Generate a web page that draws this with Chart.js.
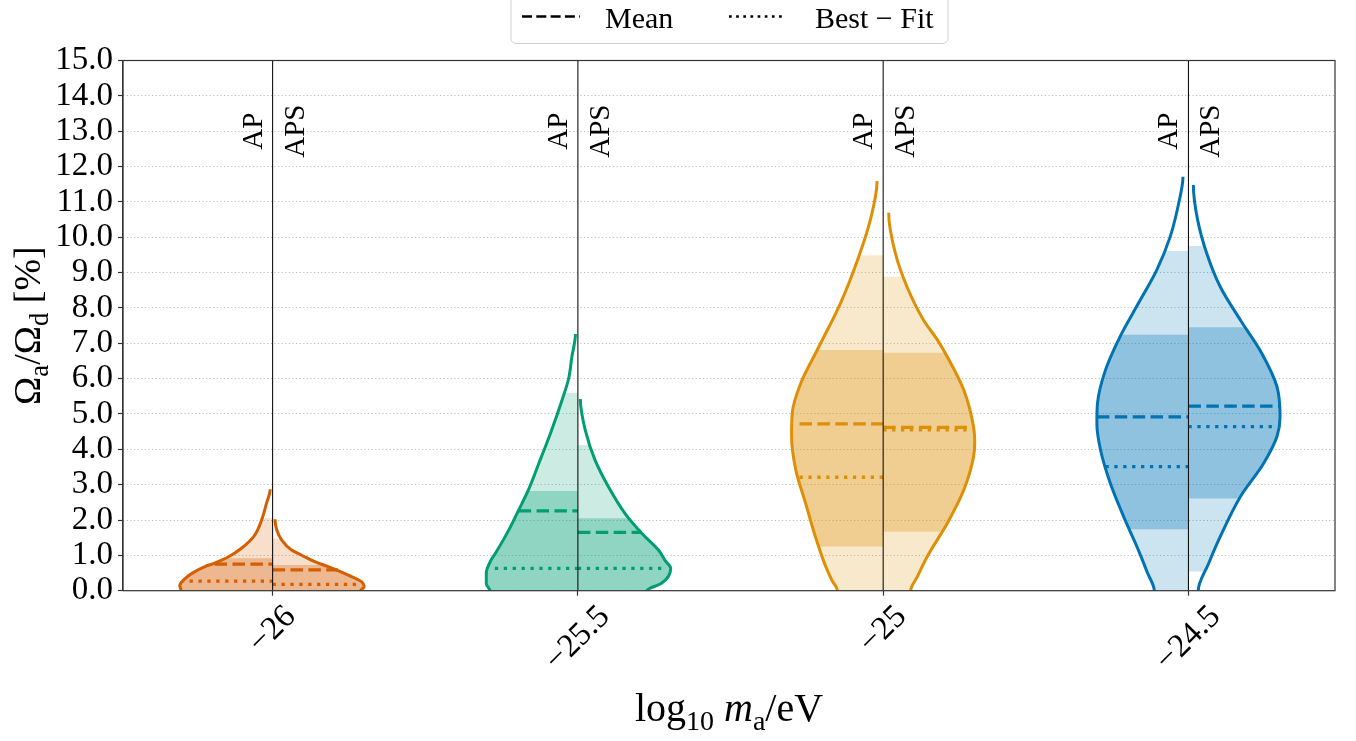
<!DOCTYPE html>
<html>
<head>
<meta charset="utf-8">
<script src="https://cdn.jsdelivr.net/npm/chart.js@4.4.1/dist/chart.umd.min.js"></script>
<style>
  html, body { margin: 0; padding: 0; background: #fff; }
  #wrap { width: 1356px; height: 741px; position: relative; }
</style>
</head>
<body>
<div id="wrap"><canvas id="chart"></canvas></div>
<script>
// categories (log10 m_a / eV) and tick labels
const masses = [-26, -25.5, -25, -24.5];
const massLabels = ['\u221226', '\u221225.5', '\u221225', '\u221224.5'];
const colors = ['#d55e00', '#029e73', '#de8f05', '#0173b2'];

// AP (left half) violin outline: y levels and half widths (x units)
const apY = [
  [0, 0.15, 0.3, 0.49, 0.68, 0.78, 0.96, 1.2, 1.53, 2.0, 2.47, 2.87],
  [0, 0.2, 0.5, 0.87, 1.06, 1.72, 2.28, 2.85, 3.6, 4.45, 5.39, 6.01, 6.6, 7.26],
  [0, 0.3, 0.68, 1.53, 2.47, 3.41, 4.36, 5.02, 5.87, 6.81, 8.13, 9.45, 10.49, 11.59],
  [0, 0.5, 1.15, 2.09, 3.04, 3.98, 4.74, 5.30, 6.24, 7.19, 8.13, 9.07, 10.01, 10.96, 11.71]
];
const apW = [
  [0.150, 0.152, 0.146, 0.132, 0.111, 0.095, 0.072, 0.051, 0.031, 0.018, 0.010, 0.004],
  [0.144, 0.150, 0.150, 0.142, 0.135, 0.113, 0.097, 0.081, 0.064, 0.045, 0.026, 0.015, 0.010, 0.004],
  [0.075, 0.084, 0.094, 0.111, 0.127, 0.143, 0.150, 0.149, 0.135, 0.108, 0.070, 0.040, 0.021, 0.010],
  [0.056, 0.067, 0.082, 0.106, 0.128, 0.144, 0.150, 0.149, 0.136, 0.112, 0.082, 0.052, 0.030, 0.016, 0.009]
];

// APS (right half)
const apsY = [
  [0, 0.11, 0.25, 0.44, 0.68, 0.82, 1.01, 1.15, 1.43, 1.71, 2.02],
  [0, 0.21, 0.4, 0.63, 0.85, 1.15, 1.62, 2.19, 2.94, 3.7, 4.55, 5.42],
  [0, 0.4, 0.96, 1.91, 2.85, 3.79, 4.2, 4.64, 5.68, 6.62, 7.09, 7.66, 8.6, 9.54, 10.69],
  [0, 0.77, 1.53, 2.66, 3.6, 4.36, 4.92, 5.77, 6.72, 7.66, 8.6, 9.54, 10.49, 11.48]
];
const apsW = [
  [0.144, 0.150, 0.146, 0.124, 0.091, 0.069, 0.047, 0.031, 0.015, 0.007, 0.004],
  [0.113, 0.137, 0.148, 0.152, 0.143, 0.132, 0.105, 0.077, 0.050, 0.028, 0.012, 0.004],
  [0.045, 0.056, 0.072, 0.105, 0.132, 0.148, 0.150, 0.148, 0.132, 0.105, 0.089, 0.066, 0.039, 0.020, 0.009],
  [0.016, 0.033, 0.052, 0.085, 0.123, 0.145, 0.150, 0.145, 0.120, 0.085, 0.052, 0.030, 0.015, 0.008]
];

// credible bands [low, high]
const apBand95 = [[0, 2.05], [0, 5.60], [0, 9.49], [0, 9.61]];
const apBand68 = [[0, 0.92], [0, 2.82], [1.25, 6.81], [1.74, 7.24]];
const apsBand95 = [[0, 1.48], [0, 4.12], [0, 8.88], [0.54, 9.75]];
const apsBand68 = [[0, 0.73], [0, 2.05], [1.67, 6.73], [2.61, 7.45]];

// mean and best-fit markers, with their reach (x units)
const apMean = [0.75, 2.26, 4.72, 4.92];
const apMeanW = [0.095, 0.097, 0.137, 0.150];
const apBest = [0.27, 0.63, 3.21, 3.51];
const apBestW = [0.136, 0.136, 0.137, 0.136];
const apsMean = [0.59, 1.65, 4.62, 5.22];
const apsMeanW = [0.107, 0.105, 0.137, 0.150];
const apsBest = [0.18, 0.63, 4.55, 4.64];
const apsBestW = [0.137, 0.137, 0.137, 0.138];

const SERIF = '"Liberation Serif", "DejaVu Serif", serif';

function rgba(hex, a) {
  const n = parseInt(hex.slice(1), 16);
  return `rgba(${n >> 16}, ${(n >> 8) & 255}, ${n & 255}, ${a})`;
}

function halfPoints(c, ys, ws, side) {
  const pts = [{x: c, y: ys[0]}];
  ys.forEach((y, i) => pts.push({x: c + side * ws[i], y: y}));
  pts.push({x: c, y: ys[ys.length - 1]});
  return pts;
}

const datasets = [];

masses.forEach((m, i) => {
  const col = colors[i];
  const halves = [
    {ys: apY[i], ws: apW[i], side: -1, b95: apBand95[i], b68: apBand68[i],
     mean: apMean[i], meanW: apMeanW[i], best: apBest[i], bestW: apBestW[i]},
    {ys: apsY[i], ws: apsW[i], side: 1, b95: apsBand95[i], b68: apsBand68[i],
     mean: apsMean[i], meanW: apsMeanW[i], best: apsBest[i], bestW: apsBestW[i]}
  ];

  halves.forEach(h => {
    const pts = halfPoints(m, h.ys, h.ws, h.side);
    const n = pts.length;
    const base = {
      type: 'line', indexAxis: 'y', cubicInterpolationMode: 'monotone',
      pointRadius: 0, fill: false
    };

    // outline (skip the two closing segments on the centre line)
    datasets.push(Object.assign({}, base, {
      data: pts, borderColor: col, borderWidth: 3, order: 1,
      segment: {
        borderColor: ctx => (ctx.p0DataIndex === 0 || ctx.p1DataIndex === n - 1) ? 'rgba(0,0,0,0)' : undefined
      }
    }));
    // shaded bands, clipped in the plugin
    datasets.push(Object.assign({}, base, {
      data: pts, borderColor: 'rgba(0,0,0,0)', borderWidth: 0, order: 4,
      band: h.b95, bandColor: rgba(col, 0.2)
    }));
    datasets.push(Object.assign({}, base, {
      data: pts, borderColor: 'rgba(0,0,0,0)', borderWidth: 0, order: 3,
      band: h.b68, bandColor: rgba(col, 0.3)
    }));

    const x0 = h.side < 0 ? m - h.meanW : m;
    const x1 = h.side < 0 ? m : m + h.meanW;
    datasets.push({
      type: 'line', data: [{x: x0, y: h.mean}, {x: x1, y: h.mean}],
      borderColor: col, borderWidth: 3.3, borderDash: [12.5, 5.4],
      pointRadius: 0, fill: false, order: 2
    });
    const b0 = h.side < 0 ? m - h.bestW : m;
    const b1 = h.side < 0 ? m : m + h.bestW;
    datasets.push({
      type: 'line', data: [{x: b0, y: h.best}, {x: b1, y: h.best}],
      borderColor: col, borderWidth: 3.3, borderDash: [3.3, 5.6],
      pointRadius: 0, fill: false, order: 2
    });
  });

  // separator between AP and APS
  datasets.push({
    type: 'line', data: [{x: m, y: 0}, {x: m, y: 15}],
    borderColor: '#111', borderWidth: 1.1, pointRadius: 0, fill: false, order: 0
  });
});

const bandPlugin = {
  id: 'bands',
  beforeDatasetDraw(chart, args) {
    const ds = chart.data.datasets[args.index];
    if (!ds.band) return;
    const ctx = chart.ctx;
    const a = chart.chartArea;
    const ys = chart.scales.y;
    const line = args.meta.dataset;
    line.updateControlPoints(a, args.meta.iScale.axis);
    const top = ys.getPixelForValue(ds.band[1]);
    const bot = ys.getPixelForValue(ds.band[0]);
    ctx.save();
    ctx.beginPath();
    ctx.rect(a.left, top, a.right - a.left, bot - top);
    ctx.clip();
    ctx.beginPath();
    line.path(ctx);
    ctx.closePath();
    ctx.fillStyle = ds.bandColor;
    ctx.fill();
    ctx.restore();
  }
};

function runFont(r, size) {
  return (r.it ? 'italic ' : '') + (r.sub ? size * 0.7 : size) + 'px ' + SERIF;
}
function runsWidth(ctx, runs, size) {
  let w = 0;
  runs.forEach(r => { ctx.font = runFont(r, size); w += ctx.measureText(r.t).width; });
  return w;
}
function drawRuns(ctx, runs, x, y, size) {
  runs.forEach(r => {
    ctx.font = runFont(r, size);
    ctx.fillText(r.t, x, y + (r.sub ? size * 0.22 : 0));
    x += ctx.measureText(r.t).width;
  });
}

const decorPlugin = {
  id: 'decor',
  afterDraw(chart) {
    const ctx = chart.ctx;
    const a = chart.chartArea;
    const xs = chart.scales.x;
    const ys = chart.scales.y;
    const cx = (a.left + a.right) / 2;

    ctx.save();
    // frame
    ctx.strokeStyle = '#333';
    ctx.lineWidth = 1.2;
    ctx.strokeRect(a.left, a.top, a.right - a.left, a.bottom - a.top);

    ctx.fillStyle = '#000';
    // AP / APS labels
    ctx.font = '29px ' + SERIF;
    ctx.textBaseline = 'alphabetic';
    ctx.textAlign = 'center';
    masses.forEach(m => {
      const px = xs.getPixelForValue(m);
      const py = ys.getPixelForValue(13.0);
      [['AP', px - 11], ['APS', px + 31]].forEach(([t, x]) => {
        ctx.save();
        ctx.translate(x, py);
        ctx.rotate(-Math.PI / 2);
        ctx.fillText(t, 0, 0);
        ctx.restore();
      });
    });

    // x tick labels, rotated 45 deg, centred under the tick
    ctx.font = '33px ' + SERIF;
    ctx.textBaseline = 'middle';
    masses.forEach((m, i) => {
      const px = xs.getPixelForValue(m);
      const w = ctx.measureText(massLabels[i]).width;
      const bh = (w + 33 * 0.68) * Math.SQRT1_2;
      ctx.save();
      ctx.translate(px, a.bottom + 13 + bh / 2);
      ctx.rotate(-Math.PI / 4);
      ctx.fillText(massLabels[i], 0, 0);
      ctx.restore();
    });

    // axis titles
    ctx.textAlign = 'left';
    ctx.textBaseline = 'alphabetic';
    const xt = [{t: 'log'}, {t: '10', sub: 1}, {t: ' '}, {t: 'm', it: 1}, {t: 'a', sub: 1}, {t: '/eV'}];
    const xw = runsWidth(ctx, xt, 40);
    drawRuns(ctx, xt, cx - xw / 2, 721, 40);

    const yt = [{t: '\u03a9'}, {t: 'a', sub: 1}, {t: '/\u03a9'}, {t: 'd', sub: 1}, {t: ' [%]'}];
    const yw = runsWidth(ctx, yt, 38);
    ctx.save();
    ctx.translate(40, (a.top + a.bottom) / 2);
    ctx.rotate(-Math.PI / 2);
    drawRuns(ctx, yt, -yw / 2, 0, 38);
    ctx.restore();

    // legend
    const lx = cx - 218;
    ctx.beginPath();
    ctx.roundRect(lx, -8, 437, 51.5, 5);
    ctx.fillStyle = 'rgba(255,255,255,0.85)';
    ctx.fill();
    ctx.strokeStyle = '#d0d0d0';
    ctx.lineWidth = 1;
    ctx.stroke();

    ctx.strokeStyle = '#000';
    ctx.lineWidth = 2.7;
    ctx.setLineDash([10, 4.3]);
    ctx.beginPath();
    ctx.moveTo(lx + 11, 16.5);
    ctx.lineTo(lx + 69, 16.5);
    ctx.stroke();
    ctx.setLineDash([2.7, 4.45]);
    ctx.beginPath();
    ctx.moveTo(lx + 218, 16.5);
    ctx.lineTo(lx + 271, 16.5);
    ctx.stroke();
    ctx.setLineDash([]);

    ctx.fillStyle = '#000';
    ctx.font = '30px ' + SERIF;
    ctx.fillText('Mean', lx + 94, 28);
    ctx.fillText('Best \u2212 Fit', lx + 304, 28);
    ctx.restore();
  }
};

new Chart(document.getElementById('chart'), {
  type: 'line',
  data: { datasets: datasets },
  options: {
    responsive: true,
    maintainAspectRatio: false,
    animation: false,
    events: [],
    layout: { padding: { top: 60.5, right: 21, bottom: 0, left: 0 } },
    plugins: { legend: { display: false }, tooltip: { enabled: false } },
    scales: {
      x: {
        type: 'linear', min: -26.245, max: -24.26,
        afterBuildTicks: s => { s.ticks = masses.map(v => ({value: v})); },
        ticks: { display: false },
        grid: { drawOnChartArea: false, drawTicks: true, tickLength: 5, tickColor: '#333', tickWidth: 1.2 },
        border: { display: false },
        afterFit: s => { s.height = 150.3; }
      },
      y: {
        type: 'linear', min: 0, max: 15,
        ticks: {
          stepSize: 1, autoSkip: false, padding: 5, color: '#000',
          font: { family: SERIF, size: 33, lineHeight: 1 },
          callback: v => v.toFixed(1)
        },
        grid: { color: '#b5b5b5', lineWidth: 0.9, tickColor: '#333', tickLength: 5, tickWidth: 1.2 },
        border: { display: true, color: '#333', width: 1.2, dash: [1.2, 2.4] },
        afterFit: s => { s.width = 123; }
      }
    }
  },
  plugins: [bandPlugin, decorPlugin]
});
</script>
</body>
</html>
